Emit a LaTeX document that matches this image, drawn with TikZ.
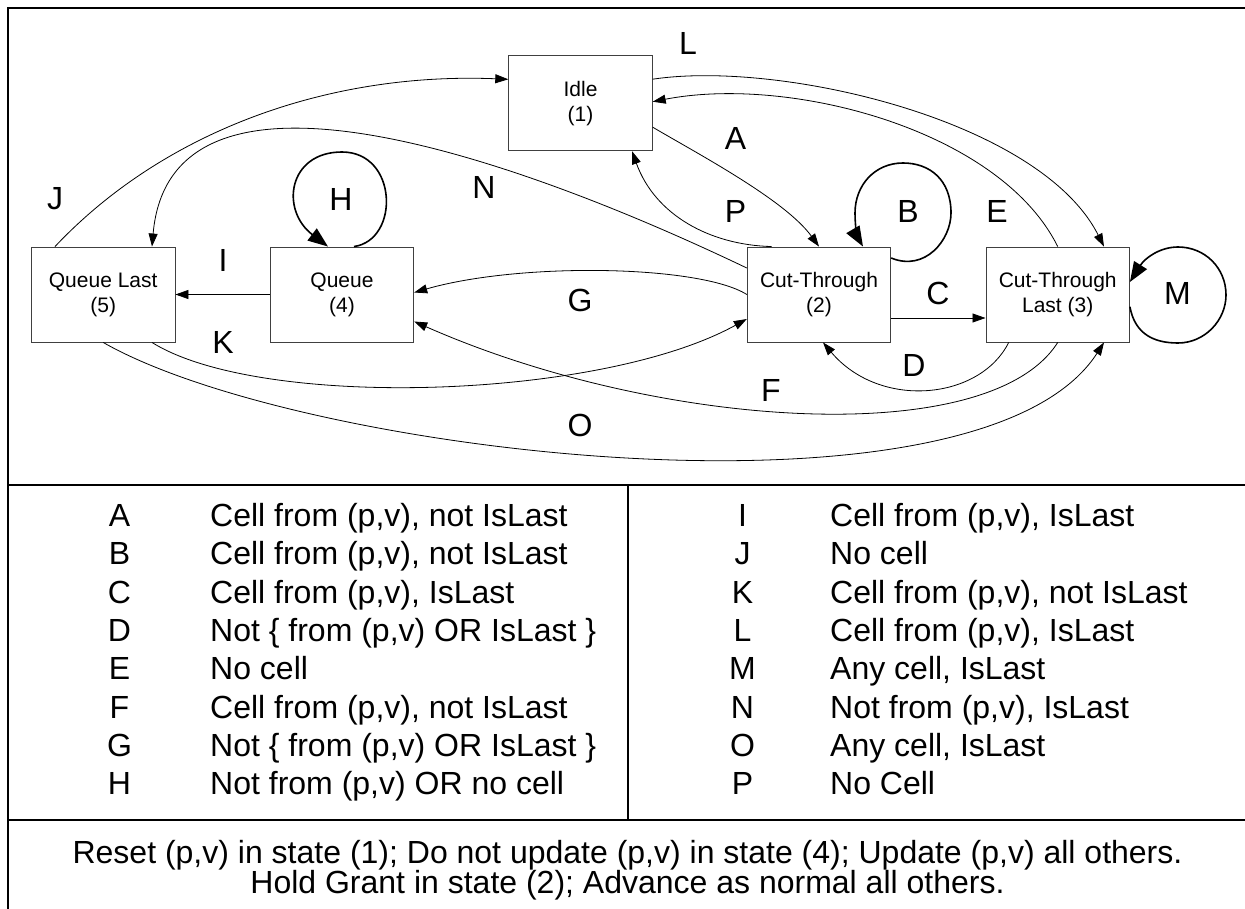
\documentclass[tikz,border=0pt]{standalone}
\usepackage{fontspec}
\setmainfont{Liberation Sans}
\usetikzlibrary{arrows.meta}
\begin{document}
\begin{tikzpicture}[x=1pt,y=-1pt,
  statebox/.style={draw=black!75, line width=0.9pt, minimum width=143.5pt, minimum height=95pt,
    inner sep=0pt, align=center, font=\fontsize{21}{25}\selectfont},
  trans/.style={draw=black, line width=0.8pt, -{Triangle[length=13pt,width=9pt]}},
  selfloop/.style={draw=black, line width=1.6pt, -{Triangle[length=20pt,width=15pt]}},
  lbl/.style={font=\fontsize{32}{32}\selectfont, inner sep=0pt},
  keytext/.style={font=\fontsize{32}{32}\selectfont, inner sep=0pt, anchor=base},
  desctext/.style={font=\fontsize{32}{32}\selectfont, inner sep=0pt, anchor=base west},
  notetext/.style={font=\fontsize{32}{32}\selectfont, inner sep=0pt, anchor=base},
  framerule/.style={line width=2.2pt}
]
\useasboundingbox (0,0) rectangle (1245,909);

% outer frame and table rules
\draw[framerule] (1260,8) -- (8,8) -- (8,920);
\draw[framerule] (8,485) -- (1260,485);
\draw[framerule] (8,820) -- (1260,820);
\draw[line width=1.5pt] (628,485) -- (628,820);

% states
\node[statebox] (idle)  at (580.5,103.2) {Idle\\(1)};
\node[statebox] (ct)    at (819,294.5)   {Cut-Through\\(2)};
\node[statebox] (ctl)   at (1057.7,294.5) {Cut-Through\\Last (3)};
\node[statebox] (queue) at (342,294.5)   {Queue\\(4)};
\node[statebox] (ql)    at (103.2,294.5) {Queue Last\\(5)};

% transitions
\draw[trans] ([xshift=-48.2pt]ql.north) .. controls (165,130) and (330,72) .. ([yshift=23.9pt]idle.west);
\draw[trans] ([yshift=26.5pt]ct.west) .. controls (500,150) and (170,40) .. ([xshift=48.8pt]ql.north);
\draw[trans] (ct.west) .. controls (700,265) and (520,262) .. ([yshift=2pt]queue.east);
\draw[trans] (queue.west) -- (ql.east);
\draw[trans] ([xshift=48.8pt]ql.south) .. controls (260,410) and (600,400) .. ([yshift=-24.5pt]ct.west);
\draw[trans] (ctl.south) .. controls (990,450) and (660,430) .. ([yshift=-27pt]queue.east);
\draw[trans] (ql.south) .. controls (300,455) and (980,535) .. ([xshift=46.3pt]ctl.south);
\draw[trans] ([xshift=-49pt]ctl.south) .. controls (980,400) and (880,410) .. ([xshift=4pt]ct.south);
\draw[trans] ([yshift=-24pt]idle.east) .. controls (700,155) and (785,200) .. (ct.north);
\draw[trans] ([xshift=-47.5pt]ct.north) .. controls (710,245) and (655,215) .. ([xshift=51.5pt]idle.south);
\draw[trans] ([yshift=24pt]idle.east) .. controls (780,60) and (1040,120) .. ([xshift=46.3pt]ctl.north);
\draw[trans] (ctl.north) .. controls (1000,130) and (790,75) .. ([yshift=1.5pt]idle.east);
\draw[trans] ([yshift=-23.5pt]ct.east) -- ([yshift=-23.5pt]ctl.west);

% self loops
\draw[selfloop] ([xshift=12pt]queue.north)
  .. controls (400,240) and (398,152) .. (342,152)
  .. controls (288,152) and (280,210) .. ([xshift=-14pt]queue.north);
\draw[selfloop] ([yshift=36.5pt]ct.east)
  .. controls (925,272) and (951,240) .. (951,213)
  .. controls (951,180) and (930,163) .. (903,163)
  .. controls (875,163) and (855,185) .. (855,213)
  .. controls (855,228) and (858,238) .. ([xshift=44pt]ct.north);
\draw[selfloop] ([yshift=-12.2pt]ctl.east)
  .. controls (1135,335) and (1155,343) .. (1178,343)
  .. controls (1205,343) and (1226,320) .. (1226,295)
  .. controls (1226,268) and (1205,247) .. (1178,247)
  .. controls (1160,247) and (1145,258) .. ([yshift=12.5pt]ctl.east);

% transition labels
\node[lbl] (lA) at (735.6,138) {A};
\node[lbl] (lB) at (908,211) {B};
\node[lbl] (lC) at (938,293) {C};
\node[lbl] (lD) at (914,365) {D};
\node[lbl] (lE) at (997,211) {E};
\node[lbl] (lF) at (771,390) {F};
\node[lbl] (lG) at (580,300) {G};
\node[lbl] (lH) at (341,199) {H};
\node[lbl] (lI) at (223,260) {I};
\node[lbl] (lJ) at (55,199) {J};
\node[lbl] (lK) at (223,342) {K};
\node[lbl] (lL) at (688,43) {L};
\node[lbl] (lM) at (1177.5,293) {M};
\node[lbl] (lN) at (484,187) {N};
\node[lbl] (lO) at (580,425) {O};
\node[lbl] (lP) at (735.6,211) {P};

% legend, left column
\node[keytext] (kA) at (119.5,526.5) {A};
\node[desctext] (dA) at (210,526.5) {Cell from (p,v), not IsLast};
\node[keytext] (kB) at (119.5,564.8) {B};
\node[desctext] (dB) at (210,564.8) {Cell from (p,v), not IsLast};
\node[keytext] (kC) at (119.5,603.1) {C};
\node[desctext] (dC) at (210,603.1) {Cell from (p,v), IsLast};
\node[keytext] (kD) at (119.5,641.4) {D};
\node[desctext] (dD) at (210,641.4) {Not \{ from (p,v) OR IsLast \}};
\node[keytext] (kE) at (119.5,679.7) {E};
\node[desctext] (dE) at (210,679.7) {No cell};
\node[keytext] (kF) at (119.5,718) {F};
\node[desctext] (dF) at (210,718) {Cell from (p,v), not IsLast};
\node[keytext] (kG) at (119.5,756.3) {G};
\node[desctext] (dG) at (210,756.3) {Not \{ from (p,v) OR IsLast \}};
\node[keytext] (kH) at (119.5,794.6) {H};
\node[desctext] (dH) at (210,794.6) {Not from (p,v) OR no cell};

% legend, right column
\node[keytext] (kI) at (742.5,526.5) {I};
\node[desctext] (dI) at (830,526.5) {Cell from (p,v), IsLast};
\node[keytext] (kJ) at (742.5,564.8) {J};
\node[desctext] (dJ) at (830,564.8) {No cell};
\node[keytext] (kK) at (742.5,603.1) {K};
\node[desctext] (dK) at (830,603.1) {Cell from (p,v), not IsLast};
\node[keytext] (kL) at (742.5,641.4) {L};
\node[desctext] (dL) at (830,641.4) {Cell from (p,v), IsLast};
\node[keytext] (kM) at (742.5,679.7) {M};
\node[desctext] (dM) at (830,679.7) {Any cell, IsLast};
\node[keytext] (kN) at (742.5,718) {N};
\node[desctext] (dN) at (830,718) {Not from (p,v), IsLast};
\node[keytext] (kO) at (742.5,756.3) {O};
\node[desctext] (dO) at (830,756.3) {Any cell, IsLast};
\node[keytext] (kP) at (742.5,794.6) {P};
\node[desctext] (dP) at (830,794.6) {No Cell};

% footer notes
\node[notetext] (note1) at (627.5,863.5) {Reset (p,v) in state (1); Do not update (p,v) in state (4); Update (p,v) all others.};
\node[notetext] (note2) at (627.5,893.5) {Hold Grant in state (2); Advance as normal all others.};
\end{tikzpicture}
\end{document}
